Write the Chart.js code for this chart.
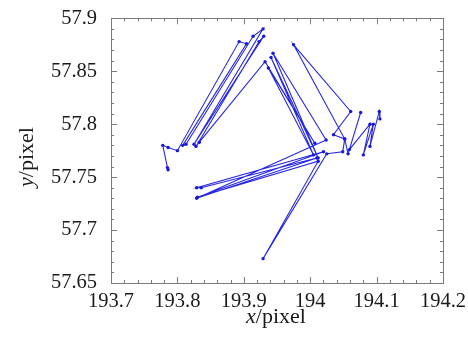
<!DOCTYPE html>
<html>
<head>
<meta charset="utf-8">
<script src="https://cdn.jsdelivr.net/npm/chart.js@4/dist/chart.umd.min.js"></script>
<style>
  html, body { margin: 0; padding: 0; background: #fff; }
  #wrap { width: 468px; height: 338px; }
</style>
</head>
<body>
<div id="wrap"><canvas id="myChart" width="468" height="338"></canvas></div>
<script>
// trajectory, in the order it is drawn
const xVals = [193.786, 193.785, 193.778, 193.786, 193.800, 193.893, 193.904, 193.808, 193.813, 193.914,
               193.929, 193.825, 193.930, 193.923, 193.828, 193.833, 193.932, 194.007, 193.937, 194.005,
               193.941, 194.012, 193.944, 194.024, 193.829, 194.010, 193.836, 193.829, 194.020, 193.830,
               194.012, 193.929, 194.025, 194.049, 194.052, 193.975, 194.061, 194.035, 194.052, 194.057,
               194.076, 194.059, 194.090, 194.080, 194.095, 194.090, 194.104, 194.105];
const yVals = [57.757, 57.759, 57.780, 57.778, 57.775, 57.878, 57.876, 57.780, 57.781, 57.883,
               57.890, 57.781, 57.883, 57.878, 57.779, 57.783, 57.859, 57.782, 57.853, 57.771,
               57.863, 57.768, 57.867, 57.785, 57.730, 57.768, 57.740, 57.740, 57.774, 57.731,
               57.765, 57.673, 57.772, 57.774, 57.786, 57.875, 57.812, 57.790, 57.786, 57.772,
               57.811, 57.776, 57.800, 57.771, 57.800, 57.779, 57.812, 57.805];

const xTicks = [193.7, 193.8, 193.9, 194, 194.1, 194.2];
const yTicks = [57.65, 57.7, 57.75, 57.8, 57.85, 57.9];
const xMinorStep = 0.02;
const yMinorStep = 0.01;

const points = xVals.map((x, i) => ({ x: x, y: yVals[i] }));
const serif = "'Liberation Serif', 'DejaVu Serif', serif";
const tickFont = { family: serif, size: 20.5 };

// frame with inward ticks on all four sides, plus the axis titles
const framePlugin = {
    id: 'frame',
    afterDraw(chart) {
        const ctx = chart.ctx;
        const a = chart.chartArea;
        const xs = chart.scales.x, ys = chart.scales.y;
        ctx.save();
        ctx.strokeStyle = '#7a7a7a';
        ctx.lineWidth = 1;
        ctx.strokeRect(Math.round(a.left) + 0.5, Math.round(a.top) + 0.5,
                       Math.round(a.right - a.left), Math.round(a.bottom - a.top));
        ctx.beginPath();
        for (let v = xs.min; v <= xs.max + 1e-9; v += xMinorStep) {
            const px = Math.round(xs.getPixelForValue(v)) + 0.5;
            const major = xTicks.some(t => Math.abs(t - v) < 1e-6);
            const len = major ? 6 : 3;
            ctx.moveTo(px, a.bottom); ctx.lineTo(px, a.bottom - len);
            ctx.moveTo(px, a.top); ctx.lineTo(px, a.top + len);
        }
        for (let v = ys.min; v <= ys.max + 1e-9; v += yMinorStep) {
            const py = Math.round(ys.getPixelForValue(v)) + 0.5;
            const major = yTicks.some(t => Math.abs(t - v) < 1e-6);
            const len = major ? 6 : 3;
            ctx.moveTo(a.left, py); ctx.lineTo(a.left + len, py);
            ctx.moveTo(a.right, py); ctx.lineTo(a.right - len, py);
        }
        ctx.stroke();

        // axis titles: italic variable, upright unit
        ctx.fillStyle = '#1a1a1a';
        ctx.textBaseline = 'alphabetic';
        const drawTitle = (v, rest) => {
            ctx.font = 'italic 22px ' + serif;
            const w1 = ctx.measureText(v).width;
            ctx.font = '22px ' + serif;
            const w2 = ctx.measureText(rest).width;
            const start = -(w1 + w2) / 2;
            ctx.font = 'italic 22px ' + serif;
            ctx.fillText(v, start, 0);
            ctx.font = '22px ' + serif;
            ctx.fillText(rest, start + w1, 0);
        };
        ctx.save();
        ctx.translate(276, 323);
        drawTitle('x', '/pixel');
        ctx.restore();
        ctx.save();
        ctx.translate(33, 157);
        ctx.rotate(-Math.PI / 2);
        drawTitle('y', '/pixel');
        ctx.restore();
        ctx.restore();
    }
};

new Chart(document.getElementById('myChart').getContext('2d'), {
    type: 'scatter',
    data: {
        datasets: [{
            data: points,
            showLine: true,
            borderColor: 'rgb(40,40,228)',
            backgroundColor: 'rgb(25,25,215)',
            borderWidth: 1.1,
            pointRadius: 1.7,
            pointHoverRadius: 1.7,
            pointBorderWidth: 0
        }]
    },
    options: {
        responsive: false,
        animation: false,
        layout: { padding: { top: 15, right: 25, left: 0, bottom: 0 } },
        plugins: { legend: { display: false }, tooltip: { enabled: false } },
        scales: {
            x: {
                type: 'linear',
                min: 193.7, max: 194.2,
                grid: { display: false },
                border: { display: false },
                afterBuildTicks: s => { s.ticks = xTicks.map(v => ({ value: v })); },
                afterFit: s => { s.height = 55; },
                ticks: {
                    color: '#1a1a1a', font: tickFont, padding: -2, maxRotation: 0,
                    callback: v => String(+v.toFixed(2))
                }
            },
            y: {
                type: 'linear',
                min: 57.65, max: 57.9,
                grid: { display: false },
                border: { display: false },
                afterBuildTicks: s => { s.ticks = yTicks.map(v => ({ value: v })); },
                afterFit: s => { s.width = 111; },
                ticks: {
                    color: '#1a1a1a', font: tickFont, padding: 6,
                    callback: v => String(+v.toFixed(2))
                }
            }
        }
    },
    plugins: [framePlugin]
});
</script>
</body>
</html>
